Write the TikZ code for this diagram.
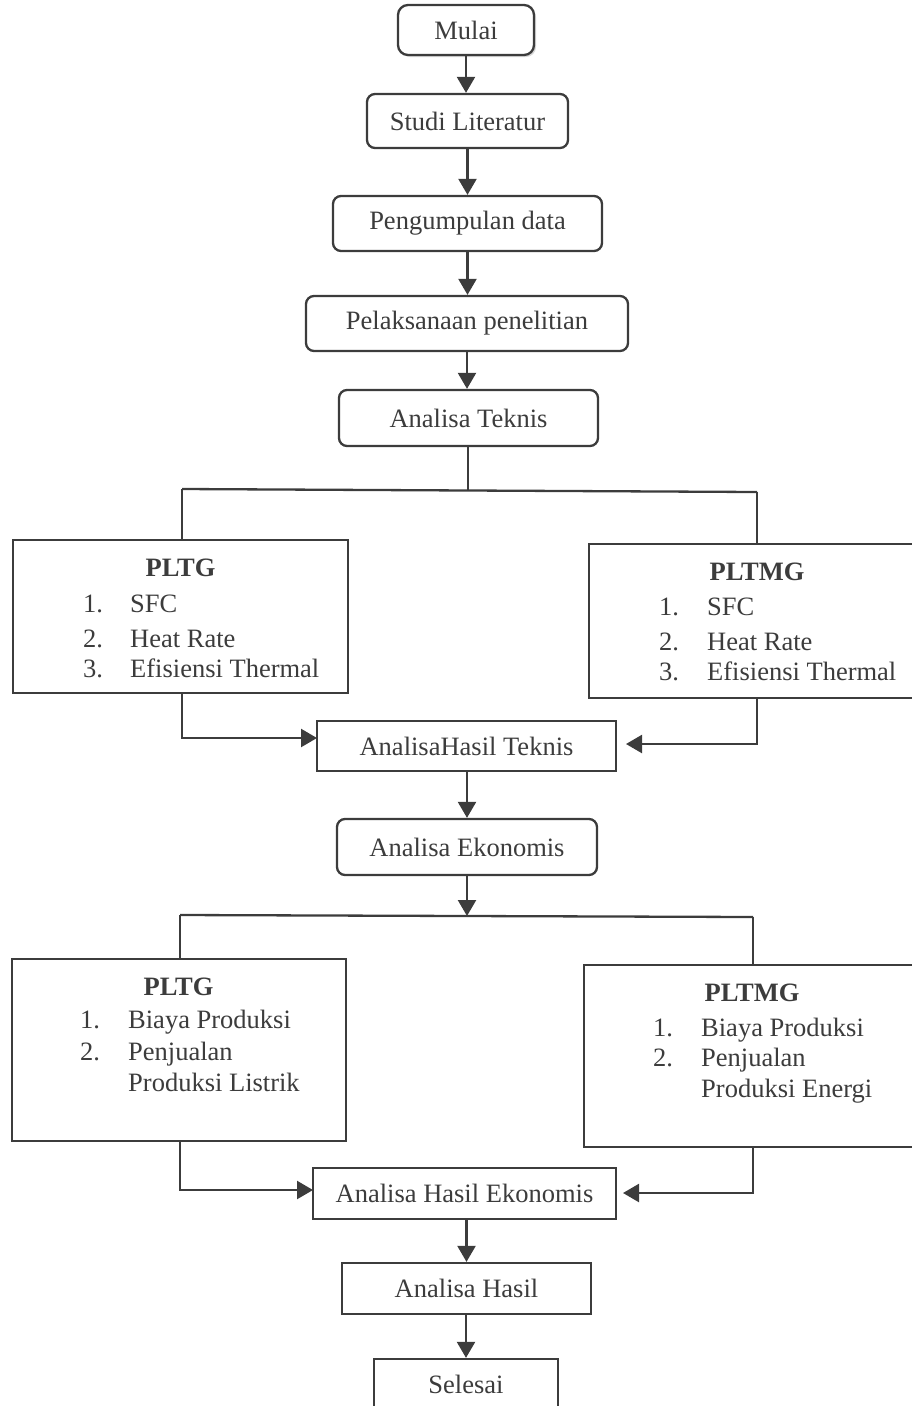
\documentclass[tikz,border=0pt]{standalone}
\usepackage{fontspec}
\setmainfont{Liberation Serif}
\usetikzlibrary{arrows.meta,shadows}
\definecolor{ink}{HTML}{3C3C3C}
\begin{document}
\begin{tikzpicture}[x=1pt,y=-1pt,
  every node/.style={text=ink,font=\fontsize{26.5}{31}\selectfont},
  line/.style={draw=ink,line width=2.3pt},
  arr/.style={line,-{Triangle[width=18pt,length=16pt]}},
  rbox/.style={line,rounded corners=8pt,inner sep=0pt,fill=white},
  sbox/.style={line,inner sep=0pt,fill=white},
  txt/.style={anchor=base west,inner sep=0pt},
  ttl/.style={anchor=base,inner sep=0pt,font=\fontsize{26.5}{31}\selectfont\bfseries}]
\useasboundingbox (0,0) rectangle (911,1406);

% main boxes
\node[rbox,rounded corners=10pt,minimum width=136pt,minimum height=50pt,
      drop shadow={shadow xshift=2pt,shadow yshift=-2pt,fill=black!30}] (mulai) at (466,30) {Mulai};
\node[rbox,minimum width=201pt,minimum height=54pt] (studi) at (467.5,121) {Studi Literatur};
\node[rbox,minimum width=269pt,minimum height=55pt] (peng) at (467.5,223.5) {Pengumpulan data};
\node[rbox,minimum width=322pt,minimum height=55pt] (pel) at (467,323.5) {Pelaksanaan penelitian};
\node[rbox,minimum width=259pt,minimum height=56pt] (at) at (468.5,418) {Analisa Teknis};

\node[sbox,minimum width=335pt,minimum height=153pt] (pltg1) at (180.5,616.5) {};
\node[sbox,minimum width=325pt,minimum height=154pt] (pltmg1) at (751.5,621) {};

\node[sbox,minimum width=299pt,minimum height=50pt] (aht) at (466.5,746) {AnalisaHasil Teknis};
\node[rbox,minimum width=260pt,minimum height=56pt] (ae) at (467,847) {Analisa Ekonomis};

\node[sbox,minimum width=334pt,minimum height=182pt] (pltg2) at (179,1050) {};
\node[sbox,minimum width=330pt,minimum height=182pt] (pltmg2) at (749,1056) {};

\node[sbox,minimum width=303pt,minimum height=51pt] (ahe) at (464.5,1193.5) {Analisa Hasil Ekonomis};
\node[sbox,minimum width=249pt,minimum height=51pt] (ah) at (466.5,1288.5) {Analisa Hasil};
\node[sbox,minimum width=184pt,minimum height=51pt] (sel) at (466,1384.5) {Selesai};

% box contents: PLTG 1
\node[ttl] (t1) at (180.5,576) {PLTG};
\node[txt] (t1n1) at (83,612) {1.};
\node[txt] (t1i1) at (130,612) {SFC};
\node[txt] (t1n2) at (83,647) {2.};
\node[txt] (t1i2) at (130,647) {Heat Rate};
\node[txt] (t1n3) at (83,677) {3.};
\node[txt] (t1i3) at (130,677) {Efisiensi Thermal};
% PLTMG 1
\node[ttl] (t2) at (757,580) {PLTMG};
\node[txt] (t2n1) at (659,615) {1.};
\node[txt] (t2i1) at (707,615) {SFC};
\node[txt] (t2n2) at (659,650) {2.};
\node[txt] (t2i2) at (707,650) {Heat Rate};
\node[txt] (t2n3) at (659,680) {3.};
\node[txt] (t2i3) at (707,680) {Efisiensi Thermal};
% PLTG 2
\node[ttl] (t3) at (178.5,995) {PLTG};
\node[txt] (t3n1) at (80,1028) {1.};
\node[txt] (t3i1) at (128,1028) {Biaya Produksi};
\node[txt] (t3n2) at (80,1060) {2.};
\node[txt] (t3i2) at (128,1060) {Penjualan};
\node[txt] (t3i3) at (128,1091) {Produksi Listrik};
% PLTMG 2
\node[ttl] (t4) at (752,1001) {PLTMG};
\node[txt] (t4n1) at (653,1036) {1.};
\node[txt] (t4i1) at (701,1036) {Biaya Produksi};
\node[txt] (t4n2) at (653,1066) {2.};
\node[txt] (t4i2) at (701,1066) {Penjualan};
\node[txt] (t4i3) at (701,1097) {Produksi Energi};

% vertical main flow
\draw[arr] (mulai.south) -- (mulai.south |- studi.north);
\draw[arr] (studi.south) -- (studi.south |- peng.north);
\draw[arr] (peng.south) -- (peng.south |- pel.north);
\draw[arr] (pel.south) -- (pel.south |- at.north);

% split 1
\coordinate (s1M) at (468,491);
\coordinate (s1L) at (182,489);
\coordinate (s1R) at (757,492);
\draw[line] (at.south -| s1M) -- (s1M);
\draw[line] (s1L) -- (s1R);
\draw[line] (s1L) -- (s1L |- pltg1.north);
\draw[line] (s1R) -- (s1R |- pltmg1.north);

% merge 1
\coordinate (m1L) at (317,738);
\coordinate (m1R) at (626,744);
\draw[arr] (s1L |- pltg1.south) |- (m1L);
\draw[arr] (s1R |- pltmg1.south) |- (m1R);

\draw[arr] (aht.south -| ae.north) -- (ae.north);

% split 2
\coordinate (s2M) at (467,916);
\coordinate (s2L) at (180,915);
\coordinate (s2R) at (753,917);
\draw[arr] (ae.south) -- (s2M);
\draw[line] (s2L) -- (s2R);
\draw[line] (s2L) -- (s2L |- pltg2.north);
\draw[line] (s2R) -- (s2R |- pltmg2.north);

% merge 2
\coordinate (m2L) at (313,1190);
\coordinate (m2R) at (623,1193);
\draw[arr] (s2L |- pltg2.south) |- (m2L);
\draw[arr] (s2R |- pltmg2.south) |- (m2R);

\draw[arr] (ahe.south -| ah.north) -- (ah.north);
\draw[arr] (ah.south -| sel.north) -- (sel.north);
\end{tikzpicture}
\end{document}
